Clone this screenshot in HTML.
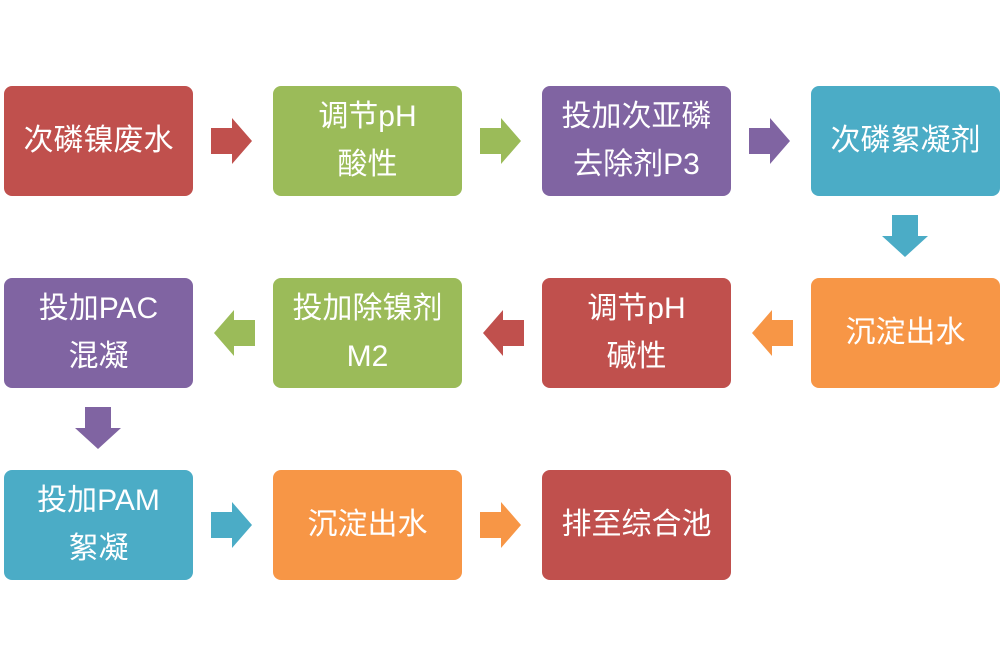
<!DOCTYPE html>
<html><head><meta charset="utf-8"><style>
body{margin:0;width:1005px;height:667px;background:#fff;position:relative;overflow:hidden;font-family:"Liberation Sans","Noto Sans CJK SC",sans-serif}
.b{position:absolute;width:189px;height:110px;border-radius:8px;color:#fff;font-size:30px;display:flex;align-items:center;justify-content:center;text-align:center;line-height:48px}
.r{background:#C0504D}.g{background:#9BBB59}.p{background:#8064A2}.t{background:#4BACC6}.o{background:#F79646}
svg{position:absolute;left:0;top:0}
</style></head><body>
<div class="b r" style="left:4px;top:86px">次磷镍废水</div>
<div class="b g" style="left:273px;top:86px">调节pH<br>酸性</div>
<div class="b p" style="left:542px;top:86px">投加次亚磷<br>去除剂P3</div>
<div class="b t" style="left:811px;top:86px">次磷絮凝剂</div>
<div class="b p" style="left:4px;top:278px">投加PAC<br>混凝</div>
<div class="b g" style="left:273px;top:278px">投加除镍剂<br>M2</div>
<div class="b r" style="left:542px;top:278px">调节pH<br>碱性</div>
<div class="b o" style="left:811px;top:278px">沉淀出水</div>
<div class="b t" style="left:4px;top:470px">投加PAM<br>絮凝</div>
<div class="b o" style="left:273px;top:470px">沉淀出水</div>
<div class="b r" style="left:542px;top:470px">排至综合池</div>
<svg width="1005" height="667">
<g transform="translate(211,118)"><polygon fill="#C0504D" points="0,10 21,10 21,0 41,23 21,46 21,36 0,36"/></g>
<g transform="translate(480,118)"><polygon fill="#9BBB59" points="0,10 21,10 21,0 41,23 21,46 21,36 0,36"/></g>
<g transform="translate(749,118)"><polygon fill="#8064A2" points="0,10 21,10 21,0 41,23 21,46 21,36 0,36"/></g>
<g transform="translate(882,215)"><polygon fill="#4BACC6" points="10,0 36,0 36,21 46,21 23,42 0,21 10,21"/></g>
<g transform="translate(793,310) scale(-1,1)"><polygon fill="#F79646" points="0,10 21,10 21,0 41,23 21,46 21,36 0,36"/></g>
<g transform="translate(524,310) scale(-1,1)"><polygon fill="#C0504D" points="0,10 21,10 21,0 41,23 21,46 21,36 0,36"/></g>
<g transform="translate(255,310) scale(-1,1)"><polygon fill="#9BBB59" points="0,10 21,10 21,0 41,23 21,46 21,36 0,36"/></g>
<g transform="translate(75,407)"><polygon fill="#8064A2" points="10,0 36,0 36,21 46,21 23,42 0,21 10,21"/></g>
<g transform="translate(211,502)"><polygon fill="#4BACC6" points="0,10 21,10 21,0 41,23 21,46 21,36 0,36"/></g>
<g transform="translate(480,502)"><polygon fill="#F79646" points="0,10 21,10 21,0 41,23 21,46 21,36 0,36"/></g>
</svg>
</body></html>
